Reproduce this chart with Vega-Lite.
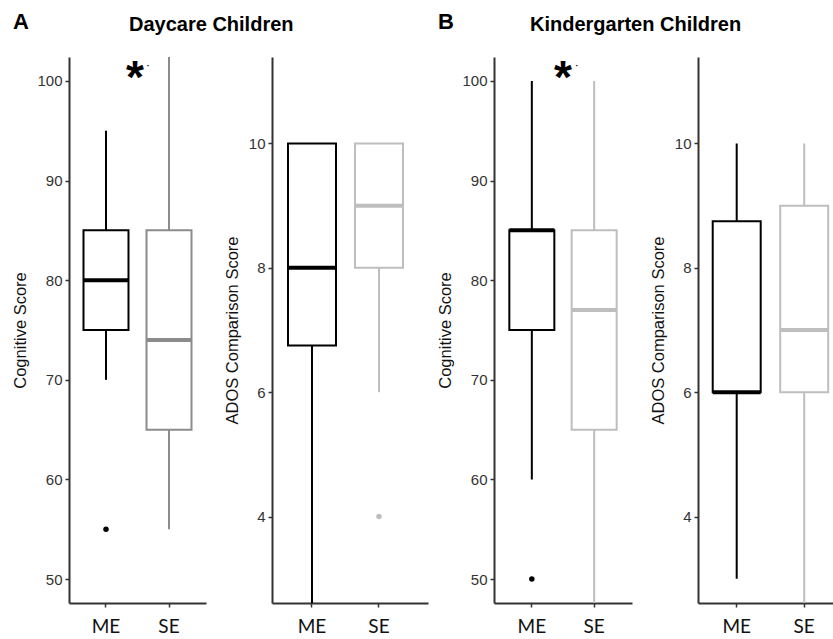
{
  "$schema": "https://vega.github.io/schema/vega-lite/v6.json",
  "background": "white",
  "padding": {"left": 12, "top": 10, "right": 0, "bottom": 0},
  "resolve": {"scale": {"color": "independent", "stroke": "independent"}},
  "config": {
    "view": {"stroke": null},
    "font": "Liberation Sans",
    "tick": {"opacity": 1},
    "axis": {"grid": false, "domainColor": "#333", "domainWidth": 2, "tickColor": "#333", "tickWidth": 1.5, "tickSize": 4},
    "axisY": {"labelFontSize": 15, "labelColor": "#333", "labelPadding": 3, "titleFontSize": 16.5, "titleFontWeight": "normal", "titleColor": "#111", "titlePadding": 8, "labelFlush": false, "labelOverlap": false},
    "axisX": {"labelFont": "Lato", "labelFontSize": 19, "labelColor": "#111", "labelPadding": 10, "labelAngle": 0},
    "title": {"fontSize": 20, "fontWeight": "bold", "color": "#000", "baseline": "alphabetic", "offset": 22, "font": "Liberation Sans"}
  },
  "datasets": {
    "dc_cog": [
      {"group": "ME", "lower": 70, "q1": 75, "median": 80, "q3": 85, "upper": 95},
      {"group": "SE", "lower": 55, "q1": 65, "median": 74, "q3": 85, "upper": 110}
    ],
    "dc_cog_out": [{"group": "ME", "value": 55}],
    "dc_ados": [
      {"group": "ME", "lower": 1, "q1": 6.75, "median": 8, "q3": 10, "upper": 10},
      {"group": "SE", "lower": 6, "q1": 8, "median": 9, "q3": 10, "upper": 10}
    ],
    "dc_ados_out": [{"group": "SE", "value": 4}],
    "kg_cog": [
      {"group": "ME", "lower": 60, "q1": 75, "median": 85, "q3": 85, "upper": 100},
      {"group": "SE", "lower": 40, "q1": 65, "median": 77, "q3": 85, "upper": 100}
    ],
    "kg_cog_out": [{"group": "ME", "value": 50}],
    "kg_ados": [
      {"group": "ME", "lower": 3, "q1": 6, "median": 6, "q3": 8.75, "upper": 10},
      {"group": "SE", "lower": 1, "q1": 6, "median": 7, "q3": 9, "upper": 10}
    ],
    "star": [{"group": "ME", "value": 101.3, "label": "*"}],
    "dot": [{"group": "ME", "value": 101.6, "label": "·"}]
  },
  "bounds": "flush",
  "spacing": 66,
  "hconcat": [
    {
      "width": 137, "height": 546,
      "title": {"text": "A", "anchor": "start", "frame": "bounds", "fontSize": 22},
      "encoding": {
        "x": {"field": "group", "type": "nominal", "scale": {"domain": ["ME", "SE"], "paddingInner": 0.286, "paddingOuter": 0.23}, "axis": {"title": null}}
      },
      "layer": [
        {"data": {"name": "dc_cog"}, "mark": {"type": "rule", "strokeWidth": 2, "clip": true},
         "encoding": {"y": {"field": "lower", "type": "quantitative", "scale": {"domain": [47.6, 102.4], "nice": false, "zero": false}, "axis": {"title": "Cognitive Score", "values": [50, 60, 70, 80, 90, 100]}}, "y2": {"field": "upper"},
           "color": {"field": "group", "type": "nominal", "scale": {"domain": ["ME", "SE"], "range": ["#000000", "#8c8c8c"]}, "legend": null}}},
        {"data": {"name": "dc_cog"}, "mark": {"type": "bar", "fill": "white", "strokeWidth": 2},
         "encoding": {"y": {"field": "q1", "type": "quantitative", "axis": {"title": "Cognitive Score", "values": [50, 60, 70, 80, 90, 100]}}, "y2": {"field": "q3"},
           "stroke": {"field": "group", "type": "nominal", "scale": {"domain": ["ME", "SE"], "range": ["#000000", "#8c8c8c"]}, "legend": null}}},
        {"data": {"name": "dc_cog"}, "mark": {"type": "tick", "thickness": 4, "size": 45, "opacity": 1},
         "encoding": {"y": {"field": "median", "type": "quantitative", "axis": {"title": "Cognitive Score", "values": [50, 60, 70, 80, 90, 100]}},
           "color": {"field": "group", "type": "nominal", "legend": null}}},
        {"data": {"name": "dc_cog_out"}, "mark": {"type": "point", "filled": true, "size": 30, "opacity": 1},
         "encoding": {"y": {"field": "value", "type": "quantitative", "axis": {"title": "Cognitive Score", "values": [50, 60, 70, 80, 90, 100]}},
           "color": {"field": "group", "type": "nominal", "legend": null}}},
        {"data": {"name": "star"}, "mark": {"type": "text", "fontSize": 46, "fontWeight": "bold", "dx": 29, "baseline": "middle", "dy": 11, "color": "#000"},
         "encoding": {"y": {"field": "value", "type": "quantitative", "axis": {"title": "Cognitive Score", "values": [50, 60, 70, 80, 90, 100]}}, "text": {"field": "label"}}},
        {"data": {"name": "dot"}, "mark": {"type": "text", "fontSize": 12, "dx": 42, "baseline": "middle", "color": "#000"},
         "encoding": {"y": {"field": "value", "type": "quantitative", "axis": {"title": "Cognitive Score", "values": [50, 60, 70, 80, 90, 100]}}, "text": {"field": "label"}}}
      ]
    },
    {
      "width": 156, "height": 546,
      "title": {"text": "Daycare Children", "anchor": "start", "frame": "group", "dx": -143},
      "encoding": {
        "x": {"field": "group", "type": "nominal", "scale": {"domain": ["ME", "SE"], "paddingInner": 0.2836, "paddingOuter": 0.306, "align": 0.39}, "axis": {"title": null}}
      },
      "layer": [
        {"data": {"name": "dc_ados"}, "mark": {"type": "rule", "strokeWidth": 2, "clip": true},
         "encoding": {"y": {"field": "lower", "type": "quantitative", "scale": {"domain": [2.61, 11.39], "nice": false, "zero": false}, "axis": {"title": "ADOS Comparison Score", "values": [4, 6, 8, 10]}}, "y2": {"field": "upper"},
           "color": {"field": "group", "type": "nominal", "scale": {"domain": ["ME", "SE"], "range": ["#000000", "#bebebe"]}, "legend": null}}},
        {"data": {"name": "dc_ados"}, "mark": {"type": "bar", "fill": "white", "strokeWidth": 2},
         "encoding": {"y": {"field": "q1", "type": "quantitative", "axis": {"title": "ADOS Comparison Score", "values": [4, 6, 8, 10]}}, "y2": {"field": "q3"},
           "stroke": {"field": "group", "type": "nominal", "scale": {"domain": ["ME", "SE"], "range": ["#000000", "#bebebe"]}, "legend": null}}},
        {"data": {"name": "dc_ados"}, "mark": {"type": "tick", "thickness": 4, "size": 48, "opacity": 1},
         "encoding": {"y": {"field": "median", "type": "quantitative", "axis": {"title": "ADOS Comparison Score", "values": [4, 6, 8, 10]}},
           "color": {"field": "group", "type": "nominal", "legend": null}}},
        {"data": {"name": "dc_ados_out"}, "mark": {"type": "point", "filled": true, "size": 30, "opacity": 1},
         "encoding": {"y": {"field": "value", "type": "quantitative", "axis": {"title": "ADOS Comparison Score", "values": [4, 6, 8, 10]}},
           "color": {"field": "group", "type": "nominal", "legend": null}}}
      ]
    },
    {
      "width": 138, "height": 546,
      "title": {"text": "B", "anchor": "start", "frame": "bounds", "fontSize": 22},
      "encoding": {
        "x": {"field": "group", "type": "nominal", "scale": {"domain": ["ME", "SE"], "paddingInner": 0.278, "paddingOuter": 0.246}, "axis": {"title": null}}
      },
      "layer": [
        {"data": {"name": "kg_cog"}, "mark": {"type": "rule", "strokeWidth": 2, "clip": true},
         "encoding": {"y": {"field": "lower", "type": "quantitative", "scale": {"domain": [47.6, 102.4], "nice": false, "zero": false}, "axis": {"title": "Cognitive Score", "values": [50, 60, 70, 80, 90, 100]}}, "y2": {"field": "upper"},
           "color": {"field": "group", "type": "nominal", "scale": {"domain": ["ME", "SE"], "range": ["#000000", "#bebebe"]}, "legend": null}}},
        {"data": {"name": "kg_cog"}, "mark": {"type": "bar", "fill": "white", "strokeWidth": 2},
         "encoding": {"y": {"field": "q1", "type": "quantitative", "axis": {"title": "Cognitive Score", "values": [50, 60, 70, 80, 90, 100]}}, "y2": {"field": "q3"},
           "stroke": {"field": "group", "type": "nominal", "scale": {"domain": ["ME", "SE"], "range": ["#000000", "#bebebe"]}, "legend": null}}},
        {"data": {"name": "kg_cog"}, "mark": {"type": "tick", "thickness": 4, "size": 45, "opacity": 1},
         "encoding": {"y": {"field": "median", "type": "quantitative", "axis": {"title": "Cognitive Score", "values": [50, 60, 70, 80, 90, 100]}},
           "color": {"field": "group", "type": "nominal", "legend": null}}},
        {"data": {"name": "kg_cog_out"}, "mark": {"type": "point", "filled": true, "size": 30, "opacity": 1},
         "encoding": {"y": {"field": "value", "type": "quantitative", "axis": {"title": "Cognitive Score", "values": [50, 60, 70, 80, 90, 100]}},
           "color": {"field": "group", "type": "nominal", "legend": null}}},
        {"data": {"name": "star"}, "mark": {"type": "text", "fontSize": 46, "fontWeight": "bold", "dx": 31, "baseline": "middle", "dy": 11, "color": "#000"},
         "encoding": {"y": {"field": "value", "type": "quantitative", "axis": {"title": "Cognitive Score", "values": [50, 60, 70, 80, 90, 100]}}, "text": {"field": "label"}}},
        {"data": {"name": "dot"}, "mark": {"type": "text", "fontSize": 12, "dx": 45, "baseline": "middle", "color": "#000"},
         "encoding": {"y": {"field": "value", "type": "quantitative", "axis": {"title": "Cognitive Score", "values": [50, 60, 70, 80, 90, 100]}}, "text": {"field": "label"}}}
      ]
    },
    {
      "width": 136, "height": 546,
      "title": {"text": "Kindergarten Children", "anchor": "start", "frame": "group", "dx": -168},
      "encoding": {
        "x": {"field": "group", "type": "nominal", "scale": {"domain": ["ME", "SE"], "paddingInner": 0.289, "paddingOuter": 0.152, "align": 0.717}, "axis": {"title": null}}
      },
      "layer": [
        {"data": {"name": "kg_ados"}, "mark": {"type": "rule", "strokeWidth": 2, "clip": true},
         "encoding": {"y": {"field": "lower", "type": "quantitative", "scale": {"domain": [2.61, 11.39], "nice": false, "zero": false}, "axis": {"title": "ADOS Comparison Score", "values": [4, 6, 8, 10]}}, "y2": {"field": "upper"},
           "color": {"field": "group", "type": "nominal", "scale": {"domain": ["ME", "SE"], "range": ["#000000", "#bebebe"]}, "legend": null}}},
        {"data": {"name": "kg_ados"}, "mark": {"type": "bar", "fill": "white", "strokeWidth": 2},
         "encoding": {"y": {"field": "q1", "type": "quantitative", "axis": {"title": "ADOS Comparison Score", "values": [4, 6, 8, 10]}}, "y2": {"field": "q3"},
           "stroke": {"field": "group", "type": "nominal", "scale": {"domain": ["ME", "SE"], "range": ["#000000", "#bebebe"]}, "legend": null}}},
        {"data": {"name": "kg_ados"}, "mark": {"type": "tick", "thickness": 4, "size": 48, "opacity": 1},
         "encoding": {"y": {"field": "median", "type": "quantitative", "axis": {"title": "ADOS Comparison Score", "values": [4, 6, 8, 10]}},
           "color": {"field": "group", "type": "nominal", "legend": null}}}
      ]
    }
  ]
}
